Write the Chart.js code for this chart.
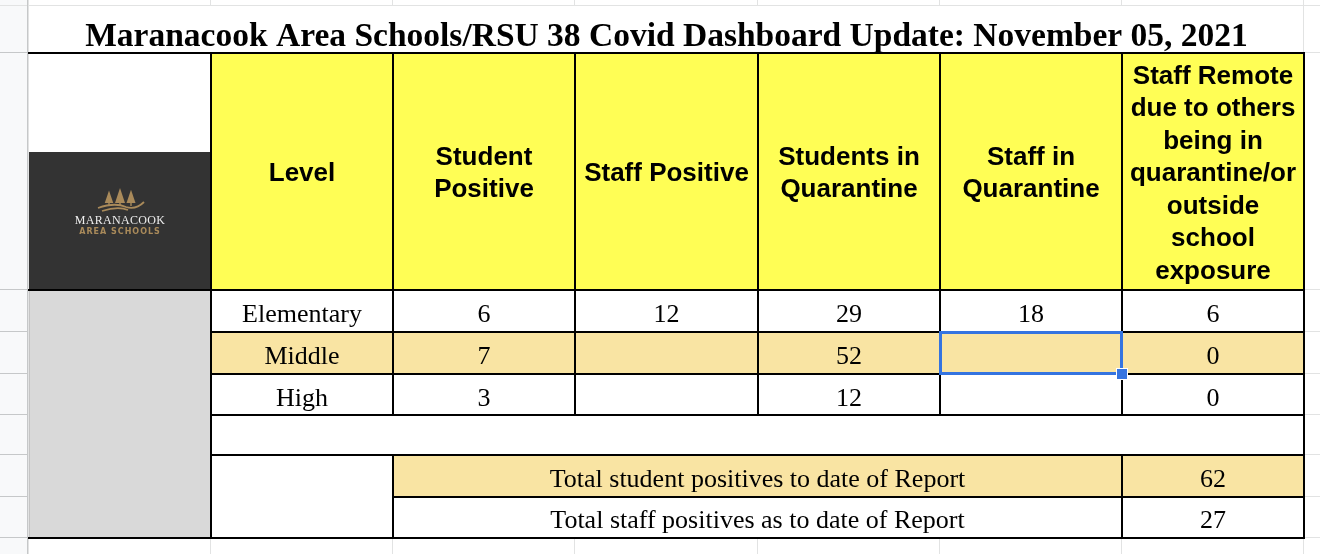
<!DOCTYPE html>
<html><head><meta charset="utf-8">
<script src="https://cdn.jsdelivr.net/npm/chart.js@4.4.0/dist/chart.umd.min.js"></script>
<style>html,body{margin:0;padding:0;background:#fff;overflow:hidden}#wrap{width:1320px;height:554px;position:relative}canvas{display:block}</style>
</head><body><div id="wrap"><canvas id="c" width="1320" height="554"></canvas></div>
<script>
// ---- data ----
const titleText = "Maranacook Area Schools/RSU 38 Covid Dashboard Update: November 05, 2021";
const headerLines = [
  ["Level"],
  ["Student", "Positive"],
  ["Staff Positive"],
  ["Students in", "Quarantine"],
  ["Staff in", "Quarantine"],
  ["Staff Remote", "due to others", "being in", "quarantine/or", "outside", "school", "exposure"]
];
const levels = ["Elementary", "Middle", "High"];
const studentPositive = [6, 7, 3];
const staffPositive = [12, null, null];
const studentsInQuarantine = [29, 52, 12];
const staffInQuarantine = [18, null, null];
const staffRemote = [6, 0, 0];
const totalLabels = ["Total student positives to date of Report", "Total staff positives as to date of Report"];
const totalValues = [62, 27];
const logoName = "MARANACOOK";
const logoSub = "AREA SCHOOLS";

// ---- layout (kept apart from data) ----
const nCols = 7;
const rowEdges = [0, 47, 284, 326, 368, 409, 449, 491, 532];
const logoTop = 146;
const selected = {col: 5, row: 3};

const C = {
  yellow: '#fffe55', tan: '#f9e4a3', white: '#ffffff', gray: '#d9d9d9', dark: '#333333',
  grid: '#e2e3e3', strip: '#f8f9fa', stripLine: '#c6c8c9', black: '#000000', blue: '#3574e0',
  gold: '#a98a5a'
};

const tablePlugin = {
  id: 'tablePlugin',
  beforeDraw(chart) {
    const ctx = chart.ctx;
    ctx.save();
    ctx.fillStyle = '#fff';
    ctx.fillRect(0, 0, chart.width, chart.height);
    ctx.restore();
  },
  afterDraw(chart) {
    const ctx = chart.ctx;
    const xs = chart.scales.x, ys = chart.scales.y;
    const X = c => Math.round(xs.getPixelForValue(c));
    const Y = r => Math.round(ys.getPixelForValue(rowEdges[r]));
    const YV = v => Math.round(ys.getPixelForValue(v));
    const W = chart.width, H = chart.height;
    ctx.save();

    // spreadsheet gridlines
    ctx.fillStyle = C.strip;
    ctx.fillRect(0, 0, X(0) - 1, H);
    ctx.strokeStyle = C.grid; ctx.lineWidth = 1;
    for (let r = 0; r < rowEdges.length; r++) {
      const y = Y(r) - 0.5;
      ctx.beginPath(); ctx.moveTo(0, y); ctx.lineTo(W, y); ctx.stroke();
    }
    for (let c = 0; c <= nCols; c++) {
      const x = X(c) - 0.5;
      ctx.beginPath(); ctx.moveTo(x, 0); ctx.lineTo(x, H); ctx.stroke();
    }
    ctx.strokeStyle = C.stripLine;
    for (let r = 1; r < rowEdges.length; r++) {
      const y = Y(r) - 0.5;
      ctx.beginPath(); ctx.moveTo(0, y); ctx.lineTo(X(0) - 1, y); ctx.stroke();
    }
    ctx.beginPath(); ctx.moveTo(X(0) - 1.5, 0); ctx.lineTo(X(0) - 1.5, H); ctx.stroke();

    const fill = (c0, c1, r0, r1, col) => {
      ctx.fillStyle = col;
      ctx.fillRect(X(c0), Y(r0), X(c1) - X(c0), Y(r1) - Y(r0));
    };

    // title cell
    ctx.fillStyle = C.white;
    ctx.fillRect(X(0), Y(0), X(nCols) - X(0) - 1, Y(1) - Y(0) - 1);

    // header
    fill(0, 1, 1, 2, C.white);
    ctx.fillStyle = C.dark;
    ctx.fillRect(X(0), YV(logoTop), X(1) - X(0), Y(2) - YV(logoTop));
    fill(1, 7, 1, 2, C.yellow);

    // left gray block
    fill(0, 1, 2, 8, C.gray);
    ctx.fillStyle = '#c4c4c4';
    ctx.fillRect(X(0), Y(2), 1, Y(8) - Y(2));

    // data rows
    const rowFills = [C.white, C.tan, C.white];
    for (let i = 0; i < levels.length; i++) fill(1, 7, 2 + i, 3 + i, rowFills[i]);
    fill(1, 7, 5, 6, C.white);
    fill(1, 2, 6, 8, C.white);
    fill(2, 7, 6, 7, C.tan);
    fill(2, 7, 7, 8, C.white);

    // logo
    const lx = (X(0) + X(1)) / 2;
    const ly = YV(logoTop);
    ctx.fillStyle = C.gold;
    [[-11, 0.85], [0, 1], [11, 0.9]].forEach(([dx, s]) => {
      const tx = lx + dx, tb = ly + 53, h = 17 * s;
      ctx.beginPath();
      ctx.moveTo(tx, tb - h);
      ctx.lineTo(tx + 5 * s, tb - 2);
      ctx.lineTo(tx - 5 * s, tb - 2);
      ctx.closePath(); ctx.fill();
      ctx.fillRect(tx - 0.7, tb - 3, 1.4, 4);
    });
    ctx.strokeStyle = C.gold; ctx.lineWidth = 1.8;
    ctx.beginPath();
    ctx.moveTo(lx - 22, ly + 56);
    ctx.quadraticCurveTo(lx - 5, ly + 50, lx + 6, ly + 55);
    ctx.quadraticCurveTo(lx + 16, ly + 58, lx + 24, ly + 50);
    ctx.stroke();
    ctx.beginPath();
    ctx.moveTo(lx - 18, ly + 59);
    ctx.quadraticCurveTo(lx - 2, ly + 54, lx + 8, ly + 58);
    ctx.stroke();
    ctx.textAlign = 'center'; ctx.textBaseline = 'alphabetic';
    ctx.fillStyle = '#eeeeee';
    ctx.font = '12px "Liberation Serif", serif';
    ctx.letterSpacing = '0.3px';
    ctx.fillText(logoName, lx, ly + 72);
    ctx.fillStyle = C.gold;
    ctx.font = 'bold 8px "DejaVu Sans", sans-serif';
    ctx.letterSpacing = '1px';
    ctx.fillText(logoSub, lx, ly + 82);
    ctx.letterSpacing = '0px';

    // borders
    ctx.fillStyle = C.black;
    const hl = (r, c0, c1) => ctx.fillRect(X(c0) - 1, Y(r) - 1, X(c1) - X(c0) + 2, 2);
    const vl = (c, r0, r1) => ctx.fillRect(X(c) - 1, Y(r0) - 1, 2, Y(r1) - Y(r0) + 2);
    hl(1, 0, 7); hl(2, 0, 7);
    hl(3, 1, 7); hl(4, 1, 7); hl(5, 1, 7); hl(6, 1, 7);
    hl(7, 2, 7); hl(8, 0, 7);
    vl(1, 1, 8); vl(7, 1, 8);
    for (const c of [2, 3, 4, 5, 6]) vl(c, 1, 5);
    vl(2, 6, 8); vl(6, 6, 8);

    // title
    ctx.fillStyle = '#000';
    ctx.textAlign = 'center';
    ctx.font = 'bold 33.5px "Liberation Serif", "Times New Roman", serif';
    ctx.fillText(titleText, (X(0) + X(nCols)) / 2, Y(1) - 7);

    // header text
    ctx.font = 'bold 26px "Liberation Sans", Arial, sans-serif';
    const hc = (Y(1) + Y(2)) / 2;
    headerLines.forEach((lines, i) => {
      const cx = (X(1 + i) + X(2 + i)) / 2;
      const lh = 32.5;
      lines.forEach((t, j) => {
        const cy = hc + (j - (lines.length - 1) / 2) * lh;
        ctx.fillText(t, cx, cy + 9.5);
      });
    });

    // body text
    ctx.font = '26px "Liberation Serif", "Times New Roman", serif';
    const cols = [levels, studentPositive, staffPositive, studentsInQuarantine, staffInQuarantine, staffRemote];
    cols.forEach((arr, i) => {
      const cx = (X(1 + i) + X(2 + i)) / 2;
      arr.forEach((v, j) => {
        if (v === null || v === undefined) return;
        const cy = (Y(2 + j) + Y(3 + j)) / 2;
        ctx.fillText(String(v), cx, cy + 11);
      });
    });
    totalLabels.forEach((t, j) => {
      const cy = (Y(6 + j) + Y(7 + j)) / 2;
      ctx.fillText(t, (X(2) + X(6)) / 2, cy + 10.5);
      ctx.fillText(String(totalValues[j]), (X(6) + X(7)) / 2, cy + 10.5);
    });

    // selection
    const sx0 = X(selected.col), sx1 = X(selected.col + 1), sy0 = Y(selected.row), sy1 = Y(selected.row + 1);
    ctx.fillStyle = C.blue;
    ctx.fillRect(sx0 - 1, sy0 - 1, sx1 - sx0 + 1, 3);
    ctx.fillRect(sx0 - 1, sy1 - 2, sx1 - sx0 + 1, 3);
    ctx.fillRect(sx0 - 1, sy0 - 1, 3, sy1 - sy0 + 1);
    ctx.fillRect(sx1 - 2, sy0 - 1, 3, sy1 - sy0 + 1);
    ctx.fillStyle = '#ffffff';
    ctx.fillRect(sx1 - 6, sy1 - 6, 12, 12);
    ctx.fillStyle = C.blue;
    ctx.fillRect(sx1 - 5, sy1 - 5, 10, 10);

    ctx.restore();
  }
};

// points for each numeric cell (invisible), positioned through the scales
const pts = [];
[studentPositive, staffPositive, studentsInQuarantine, staffInQuarantine, staffRemote].forEach((arr, i) => {
  arr.forEach((v, j) => { if (v !== null) pts.push({x: 2.5 + i, y: (rowEdges[2 + j] + rowEdges[3 + j]) / 2}); });
});

const chart = new Chart(document.getElementById('c'), {
  type: 'scatter',
  data: { datasets: [{ data: pts, pointRadius: 0, pointHoverRadius: 0 }] },
  options: {
    responsive: false,
    animation: false,
    devicePixelRatio: 1,
    layout: { padding: { left: 29, right: 16, top: 6, bottom: 16 } },
    plugins: { legend: { display: false }, tooltip: { enabled: false } },
    events: [],
    scales: {
      x: { type: 'linear', min: 0, max: nCols, display: false },
      y: { type: 'linear', min: 0, max: 532, reverse: true, display: false }
    }
  },
  plugins: [tablePlugin]
});
</script>
</body></html>
